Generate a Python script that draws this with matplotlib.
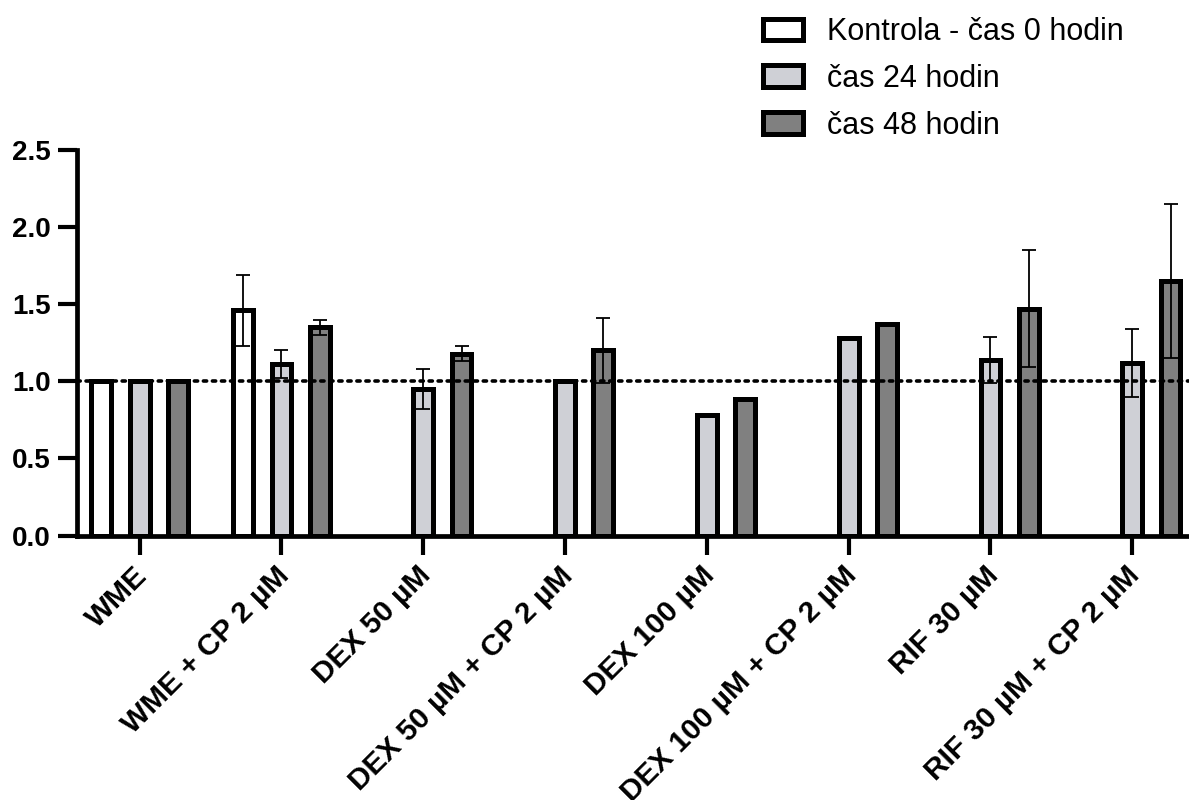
import numpy as np
import matplotlib
matplotlib.use("Agg")
import matplotlib.pyplot as plt
import matplotlib.transforms as mtransforms
from matplotlib.patches import Patch

plt.rcParams['font.family'] = ['Liberation Sans', 'DejaVu Sans']

categories = ["WME", "WME + CP 2 µM", "DEX 50 µM", "DEX 50 µM + CP 2 µM",
              "DEX 100 µM", "DEX 100 µM + CP 2 µM", "RIF 30 µM", "RIF 30 µM + CP 2 µM"]
series_names = ["Kontrola - čas 0 hodin", "čas 24 hodin", "čas 48 hodin"]

# mean values per series (nan = no bar)
ctrl0 = [1.00, 1.46, np.nan, np.nan, np.nan, np.nan, np.nan, np.nan]
t24 = [1.00, 1.11, 0.95, 1.00, 0.78, 1.28, 1.14, 1.12]
t48 = [1.00, 1.35, 1.18, 1.20, 0.885, 1.37, 1.47, 1.65]

# error (SD) per series
ctrl0_err = [0.0, 0.23, np.nan, np.nan, np.nan, np.nan, np.nan, np.nan]
t24_err = [0.0, 0.09, 0.13, 0.01, 0.0, 0.0, 0.15, 0.22]
t48_err = [0.0, 0.05, 0.05, 0.21, 0.0, 0.0, 0.38, 0.50]

yticks = [0.0, 0.5, 1.0, 1.5, 2.0, 2.5]

colors = ["white", "#cfd0d6", "#808080"]
values = [ctrl0, t24, t48]
errors = [ctrl0_err, t24_err, t48_err]
offsets = [-0.27, 0.0, 0.27]

fig = plt.figure(figsize=(11.89, 8), dpi=100)
ax = fig.add_axes([0.065, 0.3306, 0.935, 0.482])

x = np.arange(len(categories))
for vals, errs, col, off in zip(values, errors, colors, offsets):
    vals = np.array(vals)
    errs = np.array(errs)
    ok = ~np.isnan(vals)
    ax.bar(x[ok] + off, vals[ok], width=0.14, color=col, edgecolor="black",
           linewidth=3.6, zorder=2)
    e_ok = ok & (errs > 0)
    ax.errorbar(x[e_ok] + off, vals[e_ok], yerr=errs[e_ok], fmt="none",
                ecolor="black", elinewidth=1.3, capsize=5, capthick=1.3, zorder=3)

ax.axhline(1.0, color="black", linewidth=2.6, linestyle=(0, (0.9, 1.6)),
           dash_capstyle="round", zorder=4)

ax.set_xlim(-0.44, 7.40)
ax.set_ylim(0, 2.5)
ax.set_yticks(yticks)
ax.set_yticklabels([f"{v:.1f}" for v in yticks], fontsize=20, fontweight="bold")
ax.set_xticks(x)
ax.set_xticklabels(categories, rotation=45, ha="right", va="baseline",
                   rotation_mode="anchor", fontsize=21.5, fontweight="bold")

for s in ["top", "right"]:
    ax.spines[s].set_visible(False)
for s in ["left", "bottom"]:
    ax.spines[s].set_linewidth(3.4)
ax.tick_params(axis="both", width=3.0, length=14)
ax.tick_params(axis="y", pad=5)
ax.tick_params(axis="x", pad=0)

# shift rotated x labels so their baseline end sits just below the tick
shift = mtransforms.ScaledTranslation(0.09, -0.22, fig.dpi_scale_trans)
for lab in ax.get_xticklabels():
    lab.set_transform(lab.get_transform() + shift)

handles = [Patch(facecolor=c, edgecolor="black", linewidth=3.6) for c in colors]
fig.legend(handles, series_names, loc="upper left", bbox_to_anchor=(0.619, 1.013),
           frameon=False, fontsize=22, handlelength=1.3, handleheight=0.72,
           handletextpad=0.77, labelspacing=0.55)

fig.savefig("out.png", dpi=100)
